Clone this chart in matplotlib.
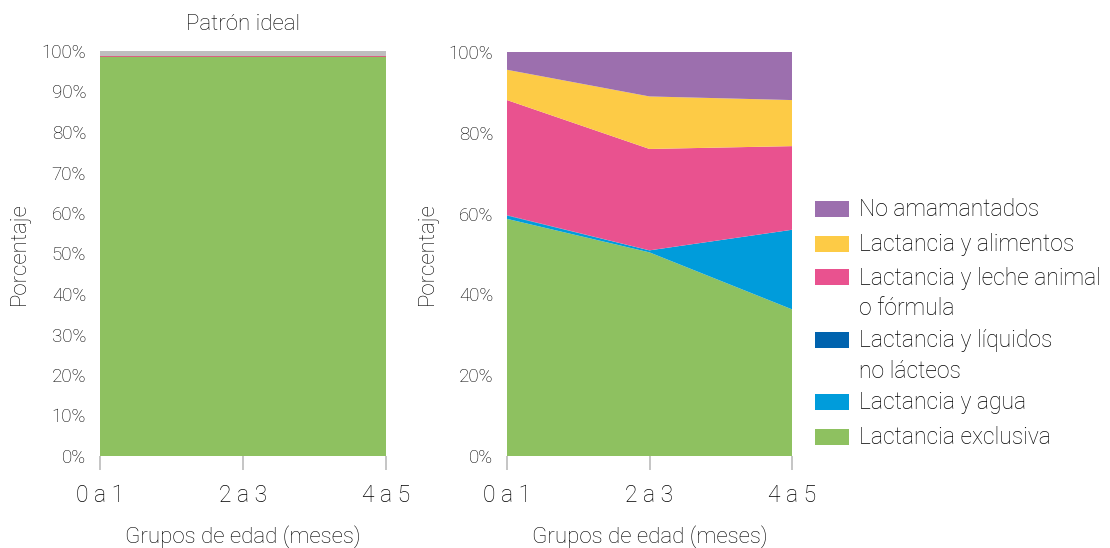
import matplotlib
matplotlib.use("Agg")
import matplotlib.pyplot as plt
from matplotlib.patches import Rectangle
from matplotlib.ticker import FuncFormatter

plt.rcParams["font.family"] = ["Roboto", "DejaVu Sans"]
plt.rcParams["font.weight"] = "light"
plt.rcParams["axes.labelweight"] = "light"
plt.rcParams["axes.titleweight"] = "light"

TXT = "#000000"

# Age groups (months)
age_groups = ["0 a 1", "2 a 3", "4 a 5"]

# Ideal pattern (%)
ideal_exclusive = [98.5, 98.5, 98.5]
ideal_milk = [0.3, 0.3, 0.3]
ideal_rest = [1.2, 1.2, 1.2]

# Observed pattern (%)
exclusiva = [58.7, 50.4, 36.3]
agua = [0.8, 0.5, 19.7]
liquidos = [0.1, 0.0, 0.0]
leche_formula = [28.5, 25.1, 20.7]
alimentos = [7.5, 13.0, 11.4]
no_amamantados = [4.4, 11.0, 11.9]

series_labels = ["No amamantados", "Lactancia y alimentos",
                 "Lactancia y leche animal\no fórmula",
                 "Lactancia y líquidos\nno lácteos",
                 "Lactancia y agua", "Lactancia exclusiva"]
series_colors = ["#9C6FAE", "#FDCB46", "#E9528F", "#0063AE", "#009CDB", "#8EC160"]

W, H = 1110, 548
fig = plt.figure(figsize=(W / 100, H / 100), dpi=100)


def frac_axes(x0, x1, y0, y1):
    return fig.add_axes([x0 / W, 1 - y1 / H, (x1 - x0) / W, (y1 - y0) / H])


def style(ax, step):
    ax.set_xlim(0, 2)
    ax.set_ylim(0, 100)
    ax.set_xticks(range(len(age_groups)))
    ax.set_xticklabels(age_groups, fontsize=16.5)
    ax.set_yticks(list(range(0, 101, step)))
    ax.yaxis.set_major_formatter(FuncFormatter(lambda v, p: f"{int(v)}%"))
    ax.tick_params(axis="y", length=0, labelsize=13.5, pad=10, colors=TXT)
    ax.tick_params(axis="x", length=10, width=1.2, color="#bbbbbb",
                   pad=10, colors=TXT)
    for s in ax.spines.values():
        s.set_visible(False)
    ax.set_xlabel("Grupos de edad (meses)", fontsize=16, labelpad=13, color=TXT)
    ax.set_ylabel("Porcentaje", fontsize=16, color=TXT, labelpad=8)


x = list(range(len(age_groups)))

# Ideal pattern
ax1 = frac_axes(100, 386, 51, 456)
ax1.stackplot(x, ideal_exclusive, ideal_milk, ideal_rest,
              colors=["#8EC160", "#D9607F", "#BEBEBE"], linewidth=0)
style(ax1, 10)
ax1.set_title("Patrón ideal", fontsize=16, pad=15, color=TXT)
for coll in ax1.collections:
    coll.set_clip_on(False)

# Observed pattern
ax2 = frac_axes(507, 792, 52, 456)
stack = [exclusiva, agua, liquidos, leche_formula, alimentos, no_amamantados]
ax2.stackplot(x, *stack, colors=series_colors[::-1], linewidth=0)
style(ax2, 20)

# Legend
rows_y = [209, 244, 277, 340, 402, 437]
for label, color, yc in zip(series_labels, series_colors, rows_y):
    fig.add_artist(Rectangle((815 / W, 1 - (yc + 8) / H), 34 / W, 16 / H,
                             transform=fig.transFigure, color=color, lw=0))
    fig.text(859 / W, 1 - (yc - 10.5) / H, label, fontsize=16.5, va="top",
             ha="left", linespacing=1.42, color=TXT)

fig.savefig("out.png", dpi=100)
